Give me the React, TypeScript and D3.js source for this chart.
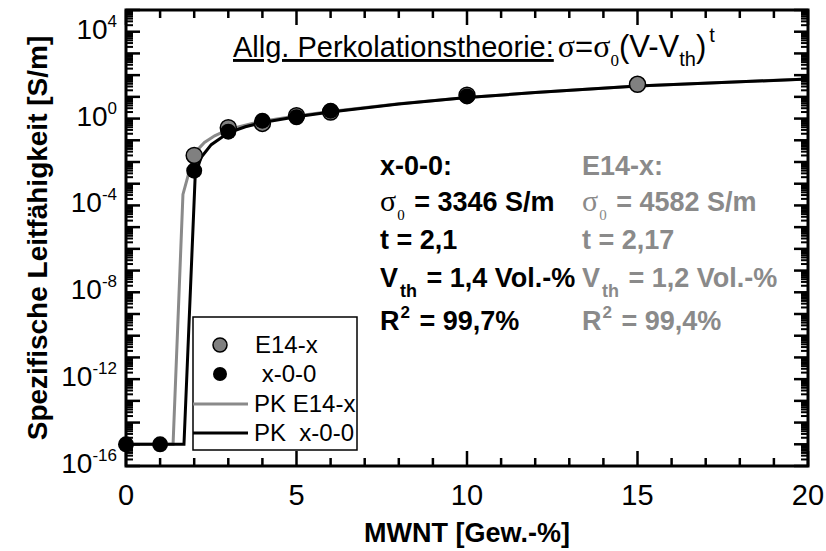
import React from "react";
import * as d3 from "d3";

const W = 826;
const H = 551;
const FRAME = { left: 126, right: 808, top: 10, bottom: 466 };

const SANS = "'Liberation Sans', Arial, sans-serif";
const SERIF = "'Liberation Serif', 'Times New Roman', serif";
const GRAY = "#8a8a8a";

// x tick labels and labelled decades of the y axis
const xLabels = [0, 5, 10, 15, 20];
const yLabelExps = [4, 0, -4, -8, -12, -16];

// measured points
const e14X = [2, 3, 4, 5, 6, 10, 15];
const e14Y = [0.02, 0.38, 0.6, 1.35, 2.0, 12, 38];
const x00X = [0, 1, 2, 3, 4, 5, 6, 10];
const x00Y = [1e-15, 1e-15, 0.004, 0.25, 0.8, 1.15, 2.3, 10.5];

// percolation fits
const fitE14X = [0, 1.38, 1.67, 2.0, 2.3, 2.6, 3, 3.5, 4, 5, 6, 8, 10, 12, 15, 20];
const fitE14Y = [1e-15, 1e-15, 3.2e-4, 0.025, 0.079, 0.16, 0.32, 0.5, 0.76, 1.32, 2.1, 4.8, 9.3, 15.8, 31.6, 67];
const fitX00X = [0, 1.7, 2.03, 2.2, 2.5, 3, 3.5, 4, 5, 6, 8, 10, 12, 15, 20];
const fitX00Y = [1e-15, 1e-15, 2.5e-3, 0.016, 0.063, 0.22, 0.42, 0.66, 1.2, 2.0, 4.7, 9.3, 15.8, 31.6, 66];

const x = d3.scaleLinear().domain([0, 20]).range([FRAME.left, FRAME.right]);
const y = d3.scaleLog().domain([1e-16, 1e5]).range([FRAME.bottom, FRAME.top]);

const line = d3
  .line<[number, number]>()
  .x((d) => x(d[0]))
  .y((d) => y(d[1]));

const zip = (a: number[], b: number[]) => a.map((v, i) => [v, b[i]] as [number, number]);

export default function App() {
  const xMinor = d3.range(0, 21, 1);
  const decades = d3.range(-16, 6);
  const yMinor: number[] = [];
  decades.slice(0, -1).forEach((e) => {
    for (let k = 2; k <= 9; k++) yMinor.push(k * Math.pow(10, e));
  });

  const tick = { stroke: "#000", strokeWidth: 2.5 };

  return (
    <svg width={W} height={H} style={{ position: "absolute", left: 0, top: 0, background: "#fff" }}>
      <rect x={0} y={0} width={W} height={H} fill="#fff" />

      {/* fits */}
      <path d={line(zip(fitE14X, fitE14Y)) || ""} fill="none" stroke={GRAY} strokeWidth={3} />
      <path d={line(zip(fitX00X, fitX00Y)) || ""} fill="none" stroke="#000" strokeWidth={3} />

      {/* points */}
      {e14X.map((v, i) => (
        <circle key={"g" + i} cx={x(v)} cy={y(e14Y[i])} r={8} fill="#808080" stroke="#000" strokeWidth={1.5} />
      ))}
      {x00X.map((v, i) => (
        <circle key={"b" + i} cx={x(v)} cy={y(x00Y[i])} r={8} fill="#000" />
      ))}

      {/* ticks */}
      {xMinor.map((v) => {
        const len = v % 5 === 0 ? 15 : 8;
        return (
          <g key={"xt" + v}>
            <line x1={x(v)} x2={x(v)} y1={FRAME.bottom} y2={FRAME.bottom - len} {...tick} />
            <line x1={x(v)} x2={x(v)} y1={FRAME.top} y2={FRAME.top + len} {...tick} />
          </g>
        );
      })}
      {decades.map((e) => (
        <g key={"yd" + e}>
          <line x1={FRAME.left} x2={FRAME.left + 14} y1={y(Math.pow(10, e))} y2={y(Math.pow(10, e))} {...tick} />
          <line x1={FRAME.right} x2={FRAME.right - 14} y1={y(Math.pow(10, e))} y2={y(Math.pow(10, e))} {...tick} />
        </g>
      ))}
      {yMinor.map((v, i) => (
        <g key={"ym" + i}>
          <line x1={FRAME.left} x2={FRAME.left + 7} y1={y(v)} y2={y(v)} stroke="#000" strokeWidth={2} />
          <line x1={FRAME.right} x2={FRAME.right - 7} y1={y(v)} y2={y(v)} stroke="#000" strokeWidth={2} />
        </g>
      ))}

      {/* frame */}
      <rect
        x={FRAME.left}
        y={FRAME.top}
        width={FRAME.right - FRAME.left}
        height={FRAME.bottom - FRAME.top}
        fill="none"
        stroke="#000"
        strokeWidth={3}
      />

      {/* tick labels */}
      {xLabels.map((v) => (
        <text key={"xl" + v} x={x(v)} y={505} textAnchor="middle" fontFamily={SANS} fontSize={29}>
          {v}
        </text>
      ))}
      {yLabelExps.map((e) => (
        <text key={"yl" + e} x={117} y={y(Math.pow(10, e)) + 7} textAnchor="end" fontFamily={SANS} fontSize={28}>
          10
          <tspan fontSize={17} dy={-12}>
            {e}
          </tspan>
        </text>
      ))}

      {/* axis titles */}
      <text x={(FRAME.left + FRAME.right) / 2} y={542} textAnchor="middle" fontFamily={SANS} fontSize={27} fontWeight="bold">
        MWNT [Gew.-%]
      </text>
      <text
        transform={`translate(47, ${(FRAME.top + FRAME.bottom) / 2}) rotate(-90)`}
        textAnchor="middle"
        fontFamily={SANS}
        fontSize={28}
        fontWeight="bold"
      >
        Spezifische Leitfähigkeit [S/m]
      </text>

      {/* formula */}
      <text x={233} y={57} fontFamily={SANS} fontSize={29}>
        <tspan style={{ textDecoration: "underline" }}>Allg. Perkolationstheorie:</tspan>
        <tspan fontFamily={SERIF} fontSize={32} dx={4}>σ</tspan>
        <tspan fontSize={31}>=</tspan>
        <tspan fontFamily={SERIF} fontSize={32}>σ</tspan>
        <tspan fontFamily={SERIF} fontSize={17} dy={9}>0</tspan>
        <tspan fontSize={31} dy={-9}>(V-V</tspan>
        <tspan fontSize={20} dy={9}>th</tspan>
        <tspan fontSize={31} dy={-9}>)</tspan>
        <tspan fontSize={20} dy={-15} dx={3}>t</tspan>
      </text>

      {/* fit parameters */}
      {[
        { x0: 380, fill: "#000", name: "x-0-0:", s0: "3346", t: "2,1", vth: "1,4", r2: "99,7" },
        { x0: 582, fill: GRAY, name: "E14-x:", s0: "4582", t: "2,17", vth: "1,2", r2: "99,4" },
      ].map((c) => (
        <g key={c.name} fill={c.fill} fontFamily={SANS} fontSize={27} fontWeight="bold">
          <text x={c.x0} y={175}>{c.name}</text>
          <text x={c.x0} y={211}>
            <tspan fontFamily={SERIF} fontWeight="normal" fontSize={30}>σ</tspan>
            <tspan fontFamily={SERIF} fontWeight="normal" fontSize={15} dy={9} dx={1}>0</tspan>
            <tspan dy={-9} dx={2}> = {c.s0} S/m</tspan>
          </text>
          <text x={c.x0} y={249}>t = {c.t}</text>
          <text x={c.x0} y={287}>
            V
            <tspan fontSize={18} dy={10} dx={2}>th</tspan>
            <tspan dy={-10} dx={2}> = {c.vth} Vol.-%</tspan>
          </text>
          <text x={c.x0} y={330}>
            R
            <tspan fontSize={17} dy={-12} dx={1}>2</tspan>
            <tspan dy={12} dx={2}> = {c.r2}%</tspan>
          </text>
        </g>
      ))}

      {/* legend */}
      <g fontFamily={SANS} fontSize={24}>
        <rect x={193} y={317} width={164} height={133} fill="#fff" stroke="#000" strokeWidth={1.5} />
        <circle cx={220} cy={345} r={7} fill="#808080" stroke="#000" strokeWidth={1.5} />
        <text x={255} y={353}>E14-x</text>
        <circle cx={220} cy={374} r={7} fill="#000" />
        <text x={255} y={382} style={{ whiteSpace: "pre" }}> x-0-0</text>
        <line x1={193} x2={248} y1={404} y2={404} stroke={GRAY} strokeWidth={3} />
        <text x={254} y={412}>PK E14-x</text>
        <line x1={193} x2={248} y1={433} y2={433} stroke="#000" strokeWidth={3} />
        <text x={254} y={441} style={{ whiteSpace: "pre" }}>PK  x-0-0</text>
      </g>
    </svg>
  );
}
